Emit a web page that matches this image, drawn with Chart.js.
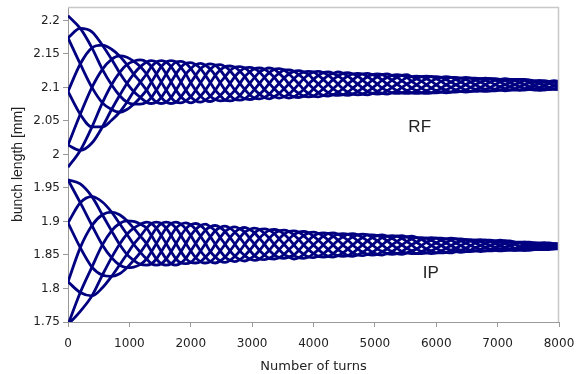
<!DOCTYPE html>
<html>
<head>
<meta charset="utf-8">
<script src="https://cdn.jsdelivr.net/npm/chart.js@4.4.1/dist/chart.umd.min.js"></script>
<style>
  html, body { margin: 0; padding: 0; background: #fff; }
  #wrap { width: 576px; height: 374px; }
</style>
</head>
<body>
<div id="wrap"><canvas id="bunchChart" width="576" height="374"></canvas></div>
<script>
// bunch length vs turns — RF and IP, eight phase curves each

const turns = [0,200,390,560,710,840,960,1070,1180,1280,1360,1440,1520,1600,1680,1760,
  1840,1920,2000,2080,2160,2240,2320,2400,2480,2560,2640,2720,2800,2880,2960,3040,
  3120,3200,3280,3360,3440,3520,3600,3680,3760,3840,3920,4000,4080,4160,4240,4320,
  4400,4480,4560,4640,4720,4800,4880,4960,5040,5120,5200,5280,5360,5440,5520,5600,
  5680,5760,5840,5920,6000,6080,6160,6240,6320,6400,6480,6560,6640,6720,6800,6880,
  6960,7040,7120,7200,7280,7360,7440,7520,7600,7680,7760,7840,7920,8000];

// RF
const rf1 = [2.207,2.188,2.159,2.127,2.104,2.088,2.078,2.075,2.075,2.078,2.085,2.096,2.108,2.120,2.131,2.138,
  2.139,2.136,2.128,2.118,2.107,2.096,2.087,2.082,2.080,2.081,2.088,2.096,2.106,2.116,2.123,2.128,
  2.129,2.127,2.122,2.115,2.106,2.098,2.090,2.086,2.085,2.087,2.091,2.098,2.105,2.112,2.118,2.121,
  2.123,2.121,2.117,2.111,2.105,2.099,2.094,2.091,2.090,2.091,2.095,2.100,2.105,2.110,2.115,2.116,
  2.117,2.116,2.113,2.109,2.104,2.099,2.096,2.093,2.093,2.094,2.096,2.100,2.104,2.108,2.111,2.113,
  2.113,2.112,2.110,2.107,2.104,2.101,2.098,2.097,2.096,2.096,2.098,2.100,2.103,2.105];
const rf2 = [2.174,2.135,2.100,2.077,2.067,2.063,2.067,2.075,2.085,2.096,2.108,2.120,2.131,2.138,2.140,2.138,
  2.130,2.120,2.107,2.096,2.087,2.081,2.079,2.082,2.088,2.096,2.106,2.116,2.124,2.129,2.130,2.128,
  2.123,2.115,2.106,2.098,2.091,2.086,2.084,2.086,2.091,2.097,2.105,2.112,2.118,2.122,2.123,2.121,
  2.117,2.112,2.105,2.099,2.094,2.090,2.089,2.091,2.094,2.099,2.105,2.111,2.115,2.118,2.119,2.116,
  2.113,2.109,2.104,2.099,2.095,2.093,2.092,2.093,2.096,2.100,2.104,2.108,2.111,2.113,2.114,2.113,
  2.111,2.108,2.104,2.101,2.098,2.096,2.096,2.097,2.098,2.100,2.103,2.106,2.108,2.109];
const rf3 = [2.094,2.060,2.041,2.041,2.051,2.063,2.078,2.094,2.108,2.120,2.131,2.138,2.140,2.138,2.131,2.120,
  2.108,2.096,2.086,2.080,2.078,2.081,2.087,2.096,2.107,2.116,2.125,2.130,2.131,2.129,2.123,2.115,
  2.106,2.097,2.090,2.086,2.084,2.086,2.090,2.097,2.105,2.113,2.119,2.123,2.124,2.122,2.118,2.112,
  2.105,2.098,2.093,2.090,2.089,2.090,2.094,2.099,2.105,2.111,2.115,2.118,2.119,2.118,2.115,2.109,
  2.104,2.099,2.095,2.092,2.092,2.093,2.096,2.100,2.104,2.108,2.112,2.114,2.114,2.113,2.111,2.108,
  2.104,2.101,2.098,2.096,2.096,2.096,2.098,2.101,2.103,2.106,2.108,2.109,2.110,2.109];
const rf4 = [2.014,2.006,2.017,2.041,2.067,2.088,2.106,2.120,2.131,2.138,2.140,2.138,2.131,2.120,2.108,2.096,
  2.086,2.080,2.077,2.080,2.087,2.096,2.107,2.118,2.126,2.131,2.132,2.130,2.124,2.116,2.106,2.097,
  2.090,2.085,2.083,2.086,2.091,2.098,2.105,2.113,2.119,2.123,2.124,2.123,2.118,2.112,2.105,2.098,
  2.093,2.089,2.088,2.090,2.094,2.099,2.105,2.111,2.116,2.119,2.120,2.118,2.115,2.110,2.105,2.099,
  2.095,2.092,2.091,2.092,2.095,2.099,2.104,2.108,2.112,2.114,2.115,2.114,2.111,2.108,2.104,2.100,
  2.097,2.096,2.095,2.096,2.098,2.101,2.104,2.107,2.108,2.110,2.110,2.109,2.108,2.105];
const rf5 = [1.981,2.006,2.041,2.077,2.104,2.122,2.134,2.139,2.141,2.138,2.131,2.120,2.108,2.096,2.085,2.078,
  2.077,2.080,2.086,2.096,2.107,2.118,2.127,2.133,2.134,2.131,2.125,2.116,2.106,2.097,2.089,2.084,
  2.083,2.085,2.090,2.098,2.106,2.114,2.120,2.124,2.125,2.123,2.119,2.112,2.105,2.098,2.092,2.089,
  2.088,2.089,2.093,2.099,2.105,2.111,2.116,2.119,2.120,2.119,2.115,2.111,2.105,2.100,2.095,2.092,
  2.091,2.092,2.095,2.099,2.104,2.109,2.112,2.115,2.115,2.114,2.112,2.108,2.104,2.100,2.097,2.095,
  2.095,2.096,2.098,2.101,2.104,2.107,2.110,2.111,2.110,2.110,2.108,2.106,2.103,2.101];
const rf6 = [2.014,2.060,2.100,2.127,2.142,2.147,2.145,2.139,2.131,2.120,2.108,2.096,2.085,2.078,2.076,2.078,
  2.086,2.096,2.107,2.118,2.128,2.133,2.135,2.133,2.126,2.116,2.106,2.096,2.088,2.083,2.082,2.084,
  2.090,2.097,2.106,2.115,2.121,2.126,2.126,2.124,2.119,2.113,2.105,2.098,2.092,2.088,2.087,2.089,
  2.093,2.098,2.105,2.111,2.117,2.120,2.121,2.119,2.116,2.111,2.105,2.100,2.095,2.092,2.091,2.092,
  2.095,2.099,2.104,2.109,2.113,2.115,2.116,2.115,2.112,2.108,2.104,2.100,2.097,2.095,2.094,2.095,
  2.097,2.101,2.104,2.107,2.110,2.112,2.112,2.111,2.108,2.106,2.103,2.100,2.098,2.097];
const rf7 = [2.094,2.135,2.159,2.163,2.157,2.147,2.134,2.120,2.108,2.096,2.085,2.078,2.076,2.078,2.085,2.096,
  2.108,2.120,2.128,2.134,2.136,2.133,2.127,2.118,2.107,2.096,2.088,2.082,2.081,2.083,2.089,2.097,
  2.106,2.115,2.122,2.127,2.128,2.126,2.120,2.113,2.105,2.097,2.091,2.087,2.086,2.088,2.092,2.098,
  2.105,2.112,2.117,2.120,2.121,2.120,2.116,2.111,2.105,2.099,2.095,2.092,2.091,2.092,2.095,2.099,
  2.104,2.109,2.113,2.116,2.116,2.115,2.112,2.108,2.104,2.100,2.096,2.094,2.094,2.095,2.097,2.100,
  2.104,2.108,2.110,2.112,2.112,2.112,2.110,2.107,2.103,2.100,2.098,2.097,2.097,2.097];
const rf8 = [2.174,2.188,2.183,2.163,2.142,2.122,2.106,2.094,2.085,2.078,2.076,2.078,2.085,2.096,2.108,2.120,
  2.130,2.136,2.137,2.134,2.128,2.118,2.107,2.096,2.088,2.081,2.080,2.082,2.088,2.097,2.106,2.115,
  2.123,2.127,2.129,2.127,2.121,2.114,2.105,2.097,2.091,2.087,2.086,2.087,2.092,2.098,2.105,2.112,
  2.117,2.121,2.122,2.120,2.117,2.111,2.105,2.099,2.094,2.091,2.090,2.092,2.095,2.100,2.105,2.109,
  2.113,2.116,2.117,2.116,2.113,2.109,2.104,2.100,2.096,2.094,2.093,2.094,2.097,2.100,2.104,2.108,
  2.111,2.112,2.113,2.112,2.110,2.107,2.104,2.101,2.098,2.096,2.096,2.097,2.098,2.101];

// IP
const ip1 = [1.962,1.928,1.894,1.865,1.846,1.835,1.831,1.832,1.836,1.844,1.855,1.867,1.879,1.890,1.897,1.899,
  1.896,1.889,1.879,1.867,1.856,1.847,1.840,1.838,1.841,1.847,1.856,1.866,1.876,1.884,1.888,1.890,
  1.888,1.882,1.875,1.866,1.858,1.851,1.847,1.844,1.846,1.851,1.858,1.865,1.872,1.878,1.882,1.883,
  1.881,1.877,1.872,1.865,1.859,1.854,1.851,1.850,1.851,1.855,1.859,1.865,1.870,1.875,1.877,1.878,
  1.876,1.873,1.869,1.864,1.860,1.856,1.854,1.853,1.855,1.857,1.860,1.864,1.868,1.870,1.872,1.872,
  1.871,1.869,1.867,1.864,1.860,1.859,1.857,1.857,1.858,1.859,1.861,1.863,1.865,1.866];
const ip2 = [1.898,1.861,1.832,1.820,1.818,1.822,1.831,1.842,1.854,1.867,1.879,1.890,1.897,1.899,1.897,1.890,
  1.879,1.867,1.856,1.846,1.840,1.838,1.840,1.847,1.856,1.866,1.876,1.884,1.889,1.891,1.888,1.883,
  1.875,1.866,1.857,1.850,1.846,1.845,1.847,1.850,1.857,1.865,1.872,1.878,1.882,1.883,1.882,1.878,
  1.872,1.865,1.859,1.853,1.850,1.849,1.851,1.854,1.859,1.865,1.871,1.875,1.878,1.879,1.877,1.874,
  1.869,1.864,1.859,1.856,1.853,1.853,1.854,1.857,1.860,1.864,1.868,1.871,1.872,1.873,1.872,1.870,
  1.867,1.864,1.861,1.859,1.857,1.857,1.857,1.859,1.861,1.863,1.865,1.866,1.867,1.867];
const ip3 = [1.810,1.794,1.789,1.801,1.818,1.835,1.851,1.866,1.878,1.890,1.897,1.899,1.897,1.890,1.879,1.867,
  1.855,1.845,1.839,1.838,1.840,1.847,1.855,1.866,1.876,1.885,1.890,1.892,1.889,1.884,1.875,1.866,
  1.857,1.850,1.845,1.844,1.846,1.851,1.858,1.865,1.873,1.879,1.883,1.884,1.882,1.878,1.872,1.865,
  1.858,1.853,1.849,1.848,1.850,1.854,1.859,1.865,1.871,1.876,1.878,1.879,1.878,1.875,1.870,1.865,
  1.859,1.855,1.853,1.852,1.853,1.856,1.860,1.864,1.868,1.871,1.873,1.873,1.872,1.870,1.867,1.864,
  1.861,1.859,1.857,1.857,1.857,1.859,1.861,1.863,1.865,1.867,1.868,1.868,1.867,1.866];
const ip4 = [1.746,1.766,1.789,1.820,1.846,1.866,1.881,1.890,1.896,1.899,1.897,1.890,1.879,1.867,1.855,1.844,
  1.838,1.837,1.839,1.846,1.856,1.867,1.877,1.886,1.891,1.893,1.890,1.884,1.876,1.866,1.857,1.849,
  1.844,1.843,1.845,1.850,1.858,1.866,1.874,1.880,1.884,1.885,1.883,1.878,1.872,1.865,1.858,1.852,
  1.849,1.848,1.849,1.853,1.859,1.865,1.871,1.876,1.879,1.880,1.878,1.875,1.870,1.865,1.860,1.856,
  1.852,1.852,1.853,1.856,1.860,1.864,1.868,1.872,1.874,1.874,1.873,1.871,1.868,1.864,1.861,1.858,
  1.857,1.856,1.857,1.859,1.860,1.863,1.865,1.867,1.868,1.868,1.868,1.866,1.865,1.863];
const ip5 = [1.746,1.794,1.832,1.865,1.886,1.897,1.901,1.900,1.896,1.890,1.879,1.867,1.855,1.844,1.837,1.835,
  1.838,1.845,1.856,1.867,1.878,1.887,1.892,1.894,1.891,1.885,1.876,1.866,1.856,1.849,1.844,1.842,
  1.844,1.850,1.857,1.866,1.874,1.881,1.885,1.886,1.884,1.879,1.872,1.865,1.858,1.852,1.848,1.847,
  1.849,1.853,1.859,1.865,1.871,1.876,1.880,1.880,1.879,1.876,1.871,1.865,1.860,1.855,1.853,1.852,
  1.852,1.855,1.859,1.864,1.868,1.872,1.874,1.875,1.874,1.871,1.868,1.864,1.861,1.858,1.856,1.856,
  1.857,1.859,1.861,1.864,1.866,1.868,1.869,1.869,1.868,1.867,1.865,1.863,1.861,1.860];
const ip6 = [1.810,1.861,1.894,1.910,1.914,1.910,1.901,1.890,1.878,1.867,1.855,1.844,1.837,1.835,1.837,1.844,
  1.855,1.867,1.879,1.888,1.894,1.896,1.892,1.886,1.876,1.866,1.856,1.848,1.843,1.841,1.844,1.849,
  1.857,1.866,1.875,1.882,1.886,1.887,1.885,1.880,1.873,1.865,1.858,1.852,1.848,1.847,1.848,1.852,
  1.858,1.865,1.872,1.877,1.880,1.881,1.880,1.876,1.871,1.865,1.859,1.855,1.852,1.851,1.853,1.856,
  1.859,1.864,1.869,1.872,1.875,1.875,1.874,1.872,1.868,1.864,1.860,1.857,1.856,1.855,1.856,1.858,
  1.861,1.864,1.867,1.869,1.869,1.869,1.869,1.867,1.865,1.863,1.861,1.860,1.859,1.859];
const ip7 = [1.898,1.928,1.937,1.929,1.914,1.897,1.881,1.866,1.854,1.844,1.837,1.835,1.837,1.844,1.855,1.867,
  1.879,1.889,1.895,1.897,1.894,1.887,1.877,1.866,1.856,1.847,1.842,1.840,1.843,1.849,1.857,1.866,
  1.875,1.882,1.887,1.888,1.886,1.881,1.874,1.865,1.857,1.851,1.847,1.846,1.848,1.852,1.858,1.865,
  1.872,1.877,1.881,1.882,1.880,1.876,1.871,1.865,1.859,1.855,1.852,1.851,1.852,1.855,1.860,1.865,
  1.869,1.873,1.875,1.876,1.875,1.872,1.868,1.864,1.860,1.857,1.855,1.855,1.856,1.858,1.861,1.864,
  1.867,1.869,1.871,1.871,1.869,1.868,1.865,1.863,1.861,1.859,1.858,1.858,1.859,1.860];
const ip8 = [1.962,1.956,1.937,1.910,1.886,1.866,1.851,1.842,1.836,1.835,1.837,1.844,1.855,1.867,1.879,1.890,
  1.896,1.898,1.895,1.888,1.878,1.867,1.855,1.847,1.841,1.839,1.842,1.848,1.856,1.866,1.875,1.883,
  1.888,1.889,1.887,1.882,1.874,1.866,1.858,1.850,1.846,1.845,1.847,1.852,1.858,1.865,1.872,1.878,
  1.881,1.882,1.881,1.877,1.871,1.865,1.859,1.854,1.851,1.850,1.852,1.855,1.860,1.865,1.870,1.874,
  1.876,1.876,1.875,1.872,1.868,1.864,1.860,1.857,1.855,1.854,1.855,1.857,1.861,1.864,1.867,1.870,
  1.871,1.872,1.871,1.869,1.866,1.863,1.861,1.859,1.858,1.858,1.858,1.860,1.861,1.863];

const xTicks = [0,1000,2000,3000,4000,5000,6000,7000,8000];
const yTicks = [1.75,1.8,1.85,1.9,1.95,2,2.05,2.1,2.15,2.2];

// in-plot group labels (turns, mm)
const groupLabels = [
  { text: 'RF', x: 5730, y: 2.041 },
  { text: 'IP', x: 5910, y: 1.822 }
];

const LINE = '#000080';
const AXIS = '#999999';
const FRAME = '#c8c8c8';
const TEXT = '#222222';

Chart.defaults.font.family = "'DejaVu Sans', sans-serif";
Chart.defaults.color = TEXT;

function toPoints(ys) {
  return ys.map((y, i) => ({ x: turns[i], y }));
}

const allSeries = [rf1, rf2, rf3, rf4, rf5, rf6, rf7, rf8, ip1, ip2, ip3, ip4, ip5, ip6, ip7, ip8];

// ── frame + RF/IP text ───────────────────────────────────────────
const frameAndLabels = {
  id: 'frameAndLabels',
  afterDatasetsDraw(chart) {
    const { ctx, chartArea: a, scales } = chart;
    ctx.save();
    ctx.strokeStyle = FRAME;
    ctx.lineWidth = 1.5;
    ctx.beginPath();
    ctx.moveTo(a.left, a.top + 0.5);
    ctx.lineTo(a.right - 0.5, a.top + 0.5);
    ctx.lineTo(a.right - 0.5, a.bottom);
    ctx.stroke();

    ctx.fillStyle = TEXT;
    ctx.font = "17px 'Liberation Sans', Arial, sans-serif";
    ctx.textAlign = 'center';
    ctx.textBaseline = 'middle';
    groupLabels.forEach(l => {
      ctx.fillText(l.text, scales.x.getPixelForValue(l.x), scales.y.getPixelForValue(l.y));
    });
    ctx.restore();
  }
};

new Chart(document.getElementById('bunchChart'), {
  type: 'line',
  data: {
    datasets: allSeries.map(ys => ({
      data: toPoints(ys),
      borderColor: LINE,
      borderWidth: 2.8,
      pointRadius: 0,
      fill: false,
      cubicInterpolationMode: 'monotone'
    }))
  },
  options: {
    responsive: false,
    animation: false,
    devicePixelRatio: 1,
    layout: { padding: { top: 7, right: 17, left: 0, bottom: 0 } },
    plugins: { legend: { display: false }, tooltip: { enabled: false } },
    scales: {
      x: {
        type: 'linear', min: 0, max: 8000,
        afterBuildTicks: s => { s.ticks = xTicks.map(v => ({ value: v })); },
        afterFit: s => { s.height = 52; s.paddingLeft = 0; s.paddingRight = 0; },
        ticks: { color: TEXT, font: { size: 12 }, padding: 10, maxRotation: 0, autoSkip: false, callback: v => String(v) },
        grid: { drawOnChartArea: false, tickLength: 5, color: AXIS },
        border: { color: AXIS },
        title: { display: true, text: 'Number of turns', color: TEXT, font: { size: 13 }, padding: { top: 0, bottom: 0 } }
      },
      y: {
        type: 'linear', min: 1.75, max: 2.22,
        afterBuildTicks: s => { s.ticks = yTicks.map(v => ({ value: v })); },
        afterFit: s => { s.width = 68; s.paddingTop = 0; s.paddingBottom = 0; },
        ticks: { color: TEXT, font: { size: 12 }, padding: 3, callback: v => String(v) },
        grid: { drawOnChartArea: false, tickLength: 5, color: AXIS },
        border: { color: AXIS },
        title: { display: true, text: 'bunch length [mm]', color: TEXT, font: { family: "'Liberation Sans', Arial, sans-serif", size: 14 }, padding: { top: 10, bottom: 0 } }
      }
    }
  },
  plugins: [frameAndLabels]
});
</script>
</body>
</html>
